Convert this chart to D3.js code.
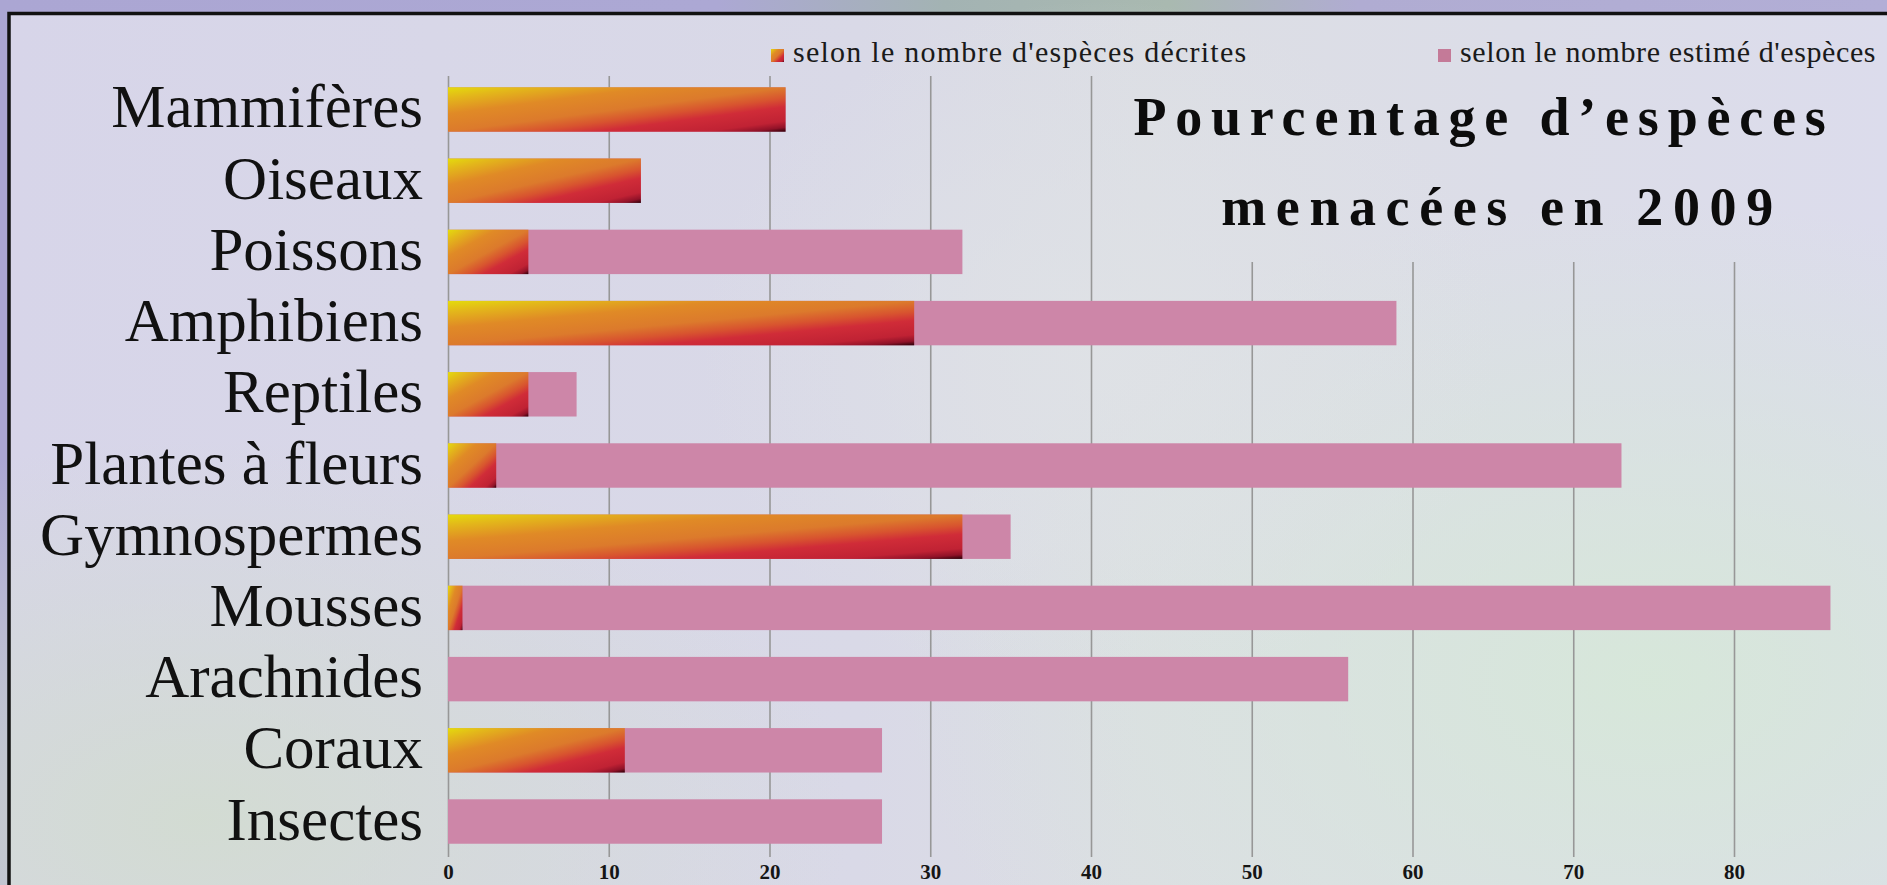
<!DOCTYPE html>
<html><head><meta charset="utf-8">
<script src="https://cdn.jsdelivr.net/npm/d3@7"></script>
<style>html,body{margin:0;padding:0;overflow:hidden;background:#aba6d3}</style>
</head><body>
<script>
const categories = ["Mammifères","Oiseaux","Poissons","Amphibiens","Reptiles","Plantes à fleurs","Gymnospermes","Mousses","Arachnides","Coraux","Insectes"];
const describedValues = [21,12,5,29,5,3,32,0.9,0,11,0];
const estimatedValues = [21,12,32,59,8,73,35,86,56,27,27];
const tickValues = [0,10,20,30,40,50,60,70,80];
const seriesNames = ["selon le nombre d'espèces décrites","selon le nombre estimé d'espèces"];
const titleLines = ["Pourcentage d’espèces","menacées en 2009"];

const W = 1887, H = 885;
const svg = d3.select("body").append("svg").attr("width", W).attr("height", H);
const defs = svg.append("defs");

// top band gradient
const tg = defs.append("linearGradient").attr("id","topband");
[[0,"#aba6d3"],[0.38,"#aca8d4"],[0.5,"#a3b3b3"],[0.62,"#a9b9b0"],[0.72,"#b0acd2"],[1,"#b2aed6"]]
  .forEach(([o,c])=>tg.append("stop").attr("offset",o).attr("stop-color",c));

// background
const bg = defs.append("linearGradient").attr("id","bgbase").attr("x1",0).attr("y1",0).attr("x2",1).attr("y2",0);
[[0,"#d7d5e9"],[0.45,"#d9d9e7"],[0.6,"#dcdee4"],[1,"#dcdcec"]]
  .forEach(([o,c])=>bg.append("stop").attr("offset",o).attr("stop-color",c));
function radial(id, col){
  const r = defs.append("radialGradient").attr("id",id);
  r.append("stop").attr("offset",0).attr("stop-color",col).attr("stop-opacity",0.9);
  r.append("stop").attr("offset",1).attr("stop-color",col).attr("stop-opacity",0);
}
radial("gBL","#d2dcd0");
radial("gBR","#d6e8d8");
radial("gMid","#dfe2e6");

// described gradient
const dg = defs.append("linearGradient").attr("id","descr").attr("x1",0).attr("y1",0).attr("x2",1).attr("y2",1);
[[0,"#e4dc0c"],[0.12,"#e3b81a"],[0.3,"#e08a26"],[0.5,"#dc7a2c"],[0.62,"#d8542f"],[0.72,"#d02c38"],[0.88,"#c02234"],[0.95,"#901228"],[1,"#2a0008"]]
  .forEach(([o,c])=>dg.append("stop").attr("offset",o).attr("stop-color",c));

svg.append("rect").attr("width",W).attr("height",H).attr("fill","#aba6d3");
svg.append("rect").attr("width",W).attr("height",12).attr("fill","url(#topband)");
svg.append("rect").attr("x",8).attr("y",13).attr("width",W).attr("height",H).attr("fill","url(#bgbase)");
svg.append("ellipse").attr("cx",200).attr("cy",820).attr("rx",650).attr("ry",380).attr("fill","url(#gBL)");
svg.append("ellipse").attr("cx",1650).attr("cy",680).attr("rx",750).attr("ry",480).attr("fill","url(#gBR)");
svg.append("ellipse").attr("cx",1100).attr("cy",350).attr("rx",400).attr("ry",350).attr("fill","url(#gMid)");
// frame
svg.append("path").attr("d",`M9,${H} L9,13.5 L${W},13.5`).attr("fill","none").attr("stroke","#111").attr("stroke-width",3.5);

const x = d3.scaleLinear().domain([0,88]).range([448, 448 + 88*16.075]);
const y = d3.scaleBand().domain(categories).range([60.5, 870.5]).padding(0.376);

const gridTop = 76, axisY = 857, titleGridTop = 262;

// grid + axis
const axis = d3.axisBottom(x).tickValues(tickValues).tickSizeInner(-(axisY-gridTop)).tickSizeOuter(0).tickPadding(7);
const ag = svg.append("g").attr("transform",`translate(0,${axisY})`).call(axis);
ag.select(".domain").remove();
ag.selectAll(".tick line").attr("stroke","#979797").attr("stroke-width",1.6)
  .attr("y2", d => x(d) > 1150 ? -(axisY-titleGridTop) : -(axisY-gridTop));
ag.selectAll(".tick text").attr("fill","#151515").attr("font-family","'Liberation Serif', serif")
  .attr("font-weight","bold").attr("font-size",21);

// bars
const rows = categories.map((c,i)=>({c, d:describedValues[i], e:estimatedValues[i]}));
svg.append("g").selectAll("rect").data(rows).join("rect")
  .attr("x", x(0)).attr("y", d=>y(d.c)).attr("height", y.bandwidth())
  .attr("width", d=>x(d.e)-x(0)).attr("fill","#cd86a8");
svg.append("g").selectAll("rect").data(rows.filter(r=>r.d>0)).join("rect")
  .attr("x", x(0)).attr("y", d=>y(d.c)).attr("height", y.bandwidth())
  .attr("width", d=>x(d.d)-x(0)).attr("fill","url(#descr)");

// category labels
svg.append("g").selectAll("text").data(categories).join("text")
  .attr("x", 423).attr("y", d=>y(d)+y.bandwidth()/2+18)
  .attr("text-anchor","end").attr("font-family","'Liberation Serif', serif")
  .attr("font-size",61).attr("fill","#111").text(d=>d);

// legend
const legendX = [771, 1438], legendTextX = [793, 1460], legendLS = [1.25, 0.6];
const lg = svg.append("g");
seriesNames.forEach((s,i)=>{
  lg.append("rect").attr("x",legendX[i]).attr("y",49).attr("width",13).attr("height",13)
    .attr("fill", i===0 ? "url(#descr)" : "#c47a98");
  lg.append("text").attr("x",legendTextX[i]).attr("y",62)
    .attr("font-family","'Liberation Serif', serif").attr("font-size",30).attr("letter-spacing",legendLS[i])
    .attr("fill","#1a1a1a").text(s);
});

// title
const tt = svg.append("g");
const titleX = [1484, 1502], titleY = [135, 225];
titleLines.forEach((t,i)=>{
  tt.append("text").attr("x",titleX[i]).attr("y",titleY[i]).attr("text-anchor","middle")
    .attr("font-family","'Liberation Serif', serif").attr("font-weight","bold")
    .attr("font-size",54).attr("letter-spacing",i===0 ? 8.8 : 9.6).attr("fill","#0c0c0c").text(t);
});
</script>
</body></html>
